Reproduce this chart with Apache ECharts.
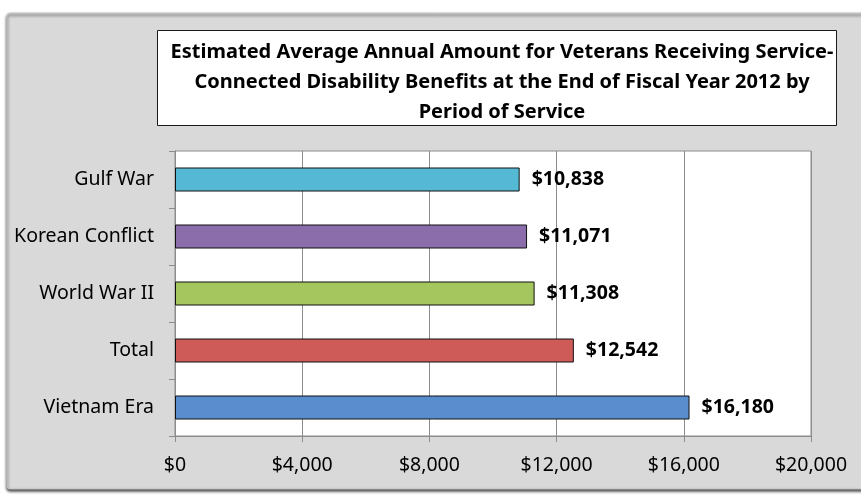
<!DOCTYPE html>
<html>
<head>
<meta charset="utf-8">
<script src="https://cdn.jsdelivr.net/npm/echarts@6/dist/echarts.min.js"></script>
<style>
  html, body { margin: 0; padding: 0; background: #ffffff; }
  #chart { width: 861px; height: 495px; }
</style>
</head>
<body>
<div id="chart"></div>
<script>
// Periods of service, listed bottom to top as the category axis draws them
const categories = ['Vietnam Era', 'Total', 'World War II', 'Korean Conflict', 'Gulf War'];
// Estimated average annual amount (USD) per period
const amounts = [16180, 12542, 11308, 11071, 10838];
// One fill colour per bar
const barColors = ['#5a8dce', '#cf5b58', '#a5c55e', '#8b6dab', '#55b9d6'];
// Value axis ticks
const axisMax = 20000;
const axisStep = 4000;

const titleText = 'Estimated Average Annual Amount for Veterans Receiving Service-\n' +
  'Connected Disability Benefits at the End of Fiscal Year 2012 by\n' +
  'Period of Service';

const money = v => '$' + Number(v).toLocaleString('en-US');

const chart = echarts.init(document.getElementById('chart'));
chart.setOption({
  animation: false,
  textStyle: { fontFamily: 'Noto Sans' },
  graphic: [
    {
      type: 'rect', z: -10, silent: true,
      shape: { x: 7, y: 13, width: 880, height: 476, r: 3 },
      style: {
        fill: '#d9d9d9', stroke: '#c4c4c4', lineWidth: 1,
        shadowBlur: 3, shadowOffsetY: 2, shadowColor: 'rgba(0,0,0,0.75)'
      }
    },
    {
      type: 'rect', z: 1, silent: true,
      shape: { x: 157.5, y: 30.5, width: 679, height: 95 },
      style: { fill: '#ffffff', stroke: '#1a1a1a', lineWidth: 1 }
    }
  ],
  title: {
    text: titleText,
    left: 497,
    top: 32,
    textAlign: 'center',
    z: 5,
    textStyle: {
      fontFamily: 'Noto Sans',
      fontSize: 20,
      fontWeight: 'bold',
      color: '#000',
      lineHeight: 30
    }
  },
  grid: {
    left: 175, right: 50, top: 151, bottom: 59,
    show: true, backgroundColor: '#ffffff', borderColor: '#8c8c8c', borderWidth: 1
  },
  xAxis: {
    type: 'value',
    min: 0, max: axisMax, interval: axisStep,
    axisLine: { show: true, lineStyle: { color: '#8c8c8c' } },
    axisTick: { show: true, length: 6, lineStyle: { color: '#8c8c8c' } },
    splitLine: { show: true, lineStyle: { color: '#8c8c8c', width: 1 } },
    axisLabel: {
      formatter: money, color: '#000', fontSize: 19.5, margin: 19,
      fontFamily: 'Noto Sans'
    }
  },
  yAxis: {
    type: 'category',
    data: categories,
    axisLine: { show: true, lineStyle: { color: '#8c8c8c' } },
    axisTick: { show: true, length: 6, lineStyle: { color: '#8c8c8c' } },
    axisLabel: { color: '#000', fontSize: 19.5, margin: 21, fontFamily: 'Noto Sans' }
  },
  series: [{
    type: 'bar',
    barWidth: 24,
    data: amounts.map((v, i) => ({ value: v, itemStyle: { color: barColors[i] } })),
    itemStyle: { borderColor: '#111', borderWidth: 1 },
    label: {
      show: true, position: 'right', distance: 12,
      formatter: p => money(p.value),
      color: '#000', fontWeight: 'bold', fontSize: 19.5, fontFamily: 'Noto Sans'
    }
  }]
});
</script>
</body>
</html>
